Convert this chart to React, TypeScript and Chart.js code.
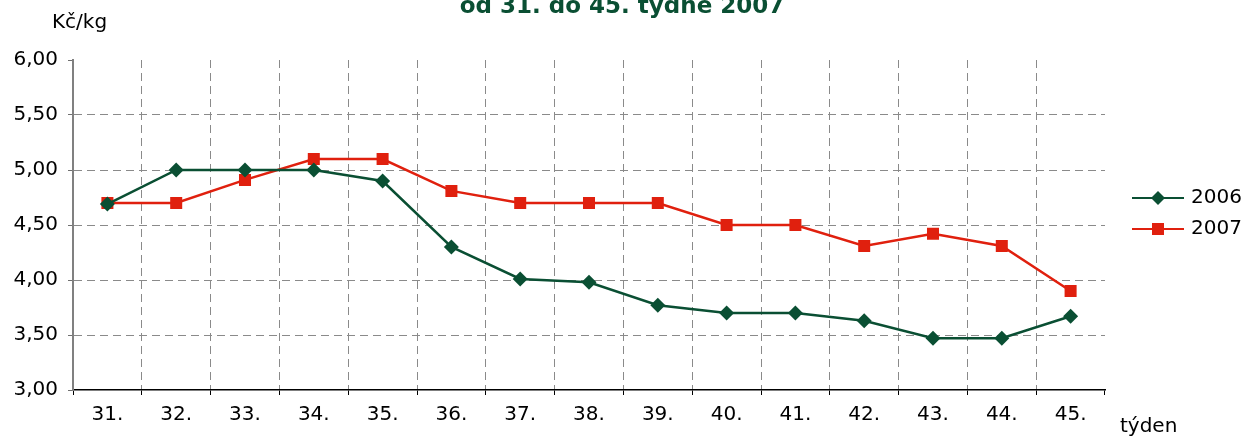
import React, { useEffect, useRef } from 'react';
import { Chart, registerables } from 'chart.js';

Chart.register(...registerables);

const weeks = ['31.', '32.', '33.', '34.', '35.', '36.', '37.', '38.', '39.', '40.', '41.', '42.', '43.', '44.', '45.'];
const values2006 = [4.69, 5.0, 5.0, 5.0, 4.9, 4.3, 4.01, 3.98, 3.77, 3.7, 3.7, 3.63, 3.47, 3.47, 3.67];
const values2007 = [4.7, 4.7, 4.91, 5.1, 5.1, 4.81, 4.7, 4.7, 4.7, 4.5, 4.5, 4.31, 4.42, 4.31, 3.9];
const seriesNames = ['2006', '2007'];
const titleText = 'od 31. do 45. týdne 2007';
const yAxisTitle = 'Kč/kg';
const xAxisTitle = 'týden';
const yMin = 3;
const yMax = 6;
const yStep = 0.5;

const GREEN = '#0a4f33';
const RED = '#e0200e';
const FONT = '"DejaVu Sans", Verdana, sans-serif';

const overlayPlugin = {
  id: 'overlay',
  afterDraw(chart: any) {
    const ctx = chart.ctx as CanvasRenderingContext2D;
    const area = chart.chartArea;
    ctx.save();
    // title (partially cut at top)
    ctx.fillStyle = GREEN;
    ctx.font = `bold 23px ${FONT}`;
    ctx.textAlign = 'center';
    ctx.textBaseline = 'alphabetic';
    ctx.fillText(titleText, 622, 13);
    // axis titles
    ctx.fillStyle = '#000';
    ctx.font = `20px ${FONT}`;
    ctx.textAlign = 'left';
    ctx.fillText(yAxisTitle, 52, 28);
    ctx.textBaseline = 'middle';
    ctx.fillText(xAxisTitle, area.right + 15, 427);
    // legend
    chart.data.datasets.forEach((ds: any, i: number) => {
      const y = 198 + i * 31;
      const x0 = area.right + 27;
      const x1 = x0 + 52;
      const xm = (x0 + x1) / 2;
      ctx.strokeStyle = ds.borderColor;
      ctx.lineWidth = 2;
      ctx.beginPath();
      ctx.moveTo(x0, y);
      ctx.lineTo(x1, y);
      ctx.stroke();
      ctx.fillStyle = ds.pointBackgroundColor;
      ctx.beginPath();
      if (ds.pointStyle === 'rectRot') {
        const r = 7;
        ctx.moveTo(xm, y - r);
        ctx.lineTo(xm + r, y);
        ctx.lineTo(xm, y + r);
        ctx.lineTo(xm - r, y);
        ctx.closePath();
      } else {
        ctx.rect(xm - 6, y - 6, 12, 12);
      }
      ctx.fill();
      ctx.fillStyle = '#000';
      ctx.font = `20px ${FONT}`;
      ctx.textAlign = 'left';
      ctx.textBaseline = 'middle';
      ctx.fillText(ds.label, x1 + 7, y);
    });
    ctx.restore();
  },
};

export default function App() {
  const ref = useRef<HTMLCanvasElement>(null);
  useEffect(() => {
    if (!ref.current) return;
    const chart = new Chart(ref.current, {
      type: 'line',
      data: {
        labels: weeks,
        datasets: [
          {
            label: seriesNames[0],
            data: values2006,
            borderColor: GREEN,
            backgroundColor: GREEN,
            pointBackgroundColor: GREEN,
            pointBorderColor: GREEN,
            pointStyle: 'rectRot',
            pointRadius: 7.5,
            pointBorderWidth: 0,
            borderWidth: 2.5,
            tension: 0,
          },
          {
            label: seriesNames[1],
            data: values2007,
            borderColor: RED,
            backgroundColor: RED,
            pointBackgroundColor: RED,
            pointBorderColor: RED,
            pointStyle: 'rect',
            pointRadius: 8.5,
            pointBorderWidth: 0,
            borderWidth: 2.5,
            tension: 0,
          },
        ],
      },
      options: {
        animation: false,
        responsive: false,
        layout: { padding: { left: 0, top: 60, right: 139, bottom: 0 } },
        plugins: {
          legend: { display: false },
          title: { display: false },
          tooltip: { enabled: false },
        },
        scales: {
          x: {
            offset: true,
            grid: {
              offset: true,
              color: (c: any) => (c.type === 'tick' && c.index > 0 ? '#8a8a8a' : 'rgba(0,0,0,0)'),
              lineWidth: 1,
              tickColor: '#000',
              tickLength: 5,
              drawTicks: true,
            } as any,
            border: { display: true, color: '#000', width: 1.5, dash: [8, 5] },
            ticks: {
              color: '#000',
              font: { family: FONT, size: 20 },
              padding: 8,
              maxRotation: 0,
              autoSkip: false,
            },
            afterFit: (s: any) => {
              s.height = 46;
            },
          },
          y: {
            min: yMin,
            max: yMax,
            grid: {
              color: (c: any) =>
                c.tick && c.tick.value > yMin && c.tick.value < yMax ? '#8a8a8a' : 'rgba(0,0,0,0)',
              lineWidth: 1,
              tickColor: '#707070',
              tickLength: 5,
            } as any,
            border: { display: true, color: '#808080', width: 2, dash: [8, 5] },
            ticks: {
              stepSize: yStep,
              color: '#000',
              font: { family: FONT, size: 20 },
              padding: 10,
              callback: (v: any) => Number(v).toFixed(2).replace('.', ','),
            },
            afterFit: (s: any) => {
              s.width = 73;
            },
          },
        },
      },
      plugins: [overlayPlugin],
    });
    return () => chart.destroy();
  }, []);
  return (
    <div style={{ position: 'fixed', left: 0, top: 0, width: 1244, height: 436, background: '#fff' }}>
      <canvas ref={ref} width={1244} height={436} style={{ width: 1244, height: 436 }} />
    </div>
  );
}
